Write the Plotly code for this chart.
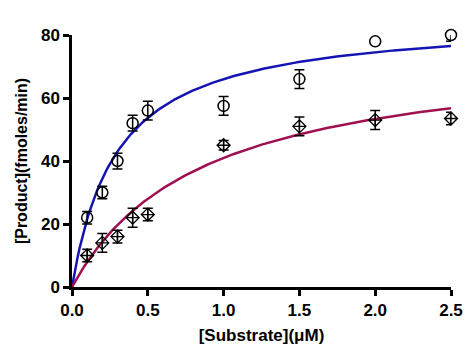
import numpy as np
import plotly.graph_objects as go

# Data
substrate = [0.1, 0.2, 0.3, 0.4, 0.5, 1.0, 1.5, 2.0, 2.5]
circle_y = [22, 30, 40, 52, 56, 57.5, 66, 78, 80]
circle_err = [2, 2, 2.5, 2.5, 3, 3, 3, None, 2]   # None: no visible error bar
diamond_y = [10, 14, 16, 22, 23, 45, 51, 53, 53.5]
diamond_err = [2, 3, 2, 3, 2, 1.5, 3, 3, 2]

# Michaelis-Menten fit parameters (estimated from the drawn curves)
blue_vmax, blue_km = 85.6, 0.297
red_vmax, red_km = 76.4, 0.864

x_fit = np.linspace(0, 2.5, 200)
blue_fit = blue_vmax * x_fit / (blue_km + x_fit)
red_fit = red_vmax * x_fit / (red_km + x_fit)

fig = go.Figure()
fig.add_trace(go.Scatter(x=x_fit, y=blue_fit, mode="lines",
                         line=dict(color="#1414B4", width=2.5), cliponaxis=False, showlegend=False))
fig.add_trace(go.Scatter(x=x_fit, y=red_fit, mode="lines",
                         line=dict(color="#9E1050", width=2.5), cliponaxis=False, showlegend=False))

circ_marker = dict(symbol="circle-open", size=11, color="black", line=dict(width=1.5))
with_err = [i for i, e in enumerate(circle_err) if e is not None]
no_err = [i for i, e in enumerate(circle_err) if e is None]
fig.add_trace(go.Scatter(x=[substrate[i] for i in with_err], y=[circle_y[i] for i in with_err],
                         mode="markers", marker=circ_marker,
                         error_y=dict(type="data", array=[circle_err[i] for i in with_err],
                                      color="black", thickness=1.5, width=5),
                         cliponaxis=False, showlegend=False))
fig.add_trace(go.Scatter(x=[substrate[i] for i in no_err], y=[circle_y[i] for i in no_err],
                         mode="markers", marker=circ_marker, cliponaxis=False, showlegend=False))
fig.add_trace(go.Scatter(x=substrate, y=diamond_y, mode="markers",
                         marker=dict(symbol="diamond-cross-open", size=10, color="black", line=dict(width=1.3)),
                         error_y=dict(type="data", array=diamond_err, color="black", thickness=1.5, width=5),
                         cliponaxis=False, showlegend=False))

font_family = "Liberation Sans, Arial, sans-serif"
# page body has an 8px default margin, so the figure is sized to fit the window
fig.update_layout(
    width=466, height=355,
    margin=dict(l=64, r=23, t=27, b=76),
    plot_bgcolor="white", paper_bgcolor="white",
    font=dict(family=font_family, color="black"),
    xaxis=dict(range=[0, 2.5], tickvals=[0, 0.5, 1.0, 1.5, 2.0, 2.5],
               ticktext=["0.0", "0.5", "1.0", "1.5", "2.0", "2.5"],
               automargin=False,
               showline=True, linecolor="black", linewidth=2.5, ticks="outside",
               ticklen=6, tickwidth=2.5, tickcolor="black", showgrid=False, zeroline=False,
               tickfont=dict(size=17, family=font_family, weight="bold"),
               title=dict(text="[Substrate](μM)", font=dict(size=17, family=font_family, weight="bold"), standoff=10)),
    yaxis=dict(range=[0, 80], tickvals=[0, 20, 40, 60, 80],
               automargin=False,
               showline=True, linecolor="black", linewidth=2.5, ticks="outside",
               ticklen=6, tickwidth=2.5, tickcolor="black", showgrid=False, zeroline=False,
               tickfont=dict(size=17, family=font_family, weight="bold"),
               title=dict(text="[Product](fmoles/min)", font=dict(size=16, family=font_family, weight="bold"), standoff=10)),
)

fig.write_html("out.html")
